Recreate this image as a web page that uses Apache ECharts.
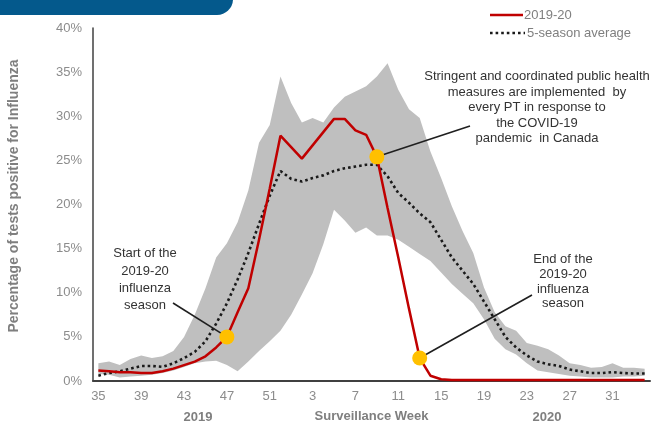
<!DOCTYPE html>
<html>
<head>
<meta charset="utf-8">
<script src="https://cdn.jsdelivr.net/npm/echarts@6/dist/echarts.min.js"></script>
<style>
  html, body { margin: 0; padding: 0; background: #ffffff; }
  #chart { width: 659px; height: 428px; }
</style>
</head>
<body>
<div id="chart"></div>
<script>
// Surveillance weeks of the 2019-20 season (week 35 of 2019 to week 34 of 2020)
const weeks = [35,36,37,38,39,40,41,42,43,44,45,46,47,48,49,50,51,52,
               1,2,3,4,5,6,7,8,9,10,11,12,13,14,15,16,17,18,19,20,21,22,23,24,25,26,27,28,29,30,31,32,33,34];

// Percentage of tests positive for influenza, 2019-20
const season2019 = [1.2,1.1,1.0,1.0,0.9,0.9,1.1,1.4,1.8,2.2,2.8,3.8,5.0,7.8,10.5,16.0,21.8,27.8,
                    26.5,25.2,26.7,28.2,29.7,29.7,28.4,27.9,25.4,19.6,14.0,8.2,2.6,0.6,0.2,0.1,
                    0.1,0.1,0.1,0.1,0.1,0.1,0.1,0.1,0.1,0.1,0.1,0.1,0.1,0.1,0.1,0.1,0.1,0.1];

// 5-season average
const avg5 = [0.6,0.9,1.1,1.4,1.7,1.7,1.6,2.0,2.6,3.3,4.5,6.5,8.8,11.5,14.5,17.8,21.0,23.8,
              22.9,22.6,23.0,23.3,23.8,24.1,24.3,24.5,24.5,23.2,21.3,20.2,19.0,18.0,16.0,14.0,
              12.5,11.0,9.0,7.0,5.0,3.8,2.9,2.2,1.9,1.7,1.3,1.1,0.9,0.9,1.0,0.9,0.85,0.85];

// Range of the previous 5 seasons (minimum / maximum)
const rangeMax = [2.0,2.2,1.8,2.5,2.9,2.6,2.8,3.4,5.0,7.5,10.5,14.0,15.6,18.0,21.6,27.0,29.0,34.5,
                  31.5,29.3,29.8,29.3,31.0,32.2,32.8,33.4,34.5,36.0,33.0,30.8,29.8,26.0,23.0,19.8,
                  17.0,14.5,10.6,7.8,6.2,5.7,4.3,4.0,3.6,2.9,2.0,1.8,1.5,1.6,2.0,1.5,1.5,1.4];
const rangeMin = [0.8,0.7,0.4,0.5,0.6,0.7,0.9,1.2,1.6,2.0,2.2,2.3,1.8,1.1,2.2,3.4,4.5,5.7,
                  7.5,9.8,12.2,15.5,19.4,18.2,16.8,17.4,16.5,16.5,16.0,15.2,14.4,13.6,12.3,11.0,
                  9.9,8.8,7.0,4.8,3.6,3.0,2.0,1.2,1.0,0.8,0.6,0.5,0.4,0.4,0.4,0.5,0.5,0.6];

// Highlighted weeks (index into weeks): season start, public health measures, season end
const keyWeeks = [12, 26, 30];

const FONT = 'Liberation Sans, Arial, Helvetica, sans-serif';
const RED = '#c00000';
const DOT = '#1a1a1a';
const chart = echarts.init(document.getElementById('chart'), null, { renderer: 'canvas' });

const rangeSpan = rangeMax.map((v, i) => +(v - rangeMin[i]).toFixed(2));

chart.setOption({
  animation: false,
  backgroundColor: '#ffffff',
  textStyle: { fontFamily: FONT },
  grid: { left: 93, right: 9, top: 28, bottom: 47, containLabel: false },
  xAxis: {
    type: 'category',
    data: weeks,
    boundaryGap: true,
    name: 'Surveillance Week',
    nameLocation: 'middle',
    nameGap: 29,
    nameTextStyle: { color: '#7f7f7f', fontSize: 13, fontWeight: 'bold', fontFamily: FONT },
    axisLine: { lineStyle: { color: '#404040', width: 2 } },
    axisTick: { show: false },
    axisLabel: { interval: 3, color: '#8c8c8c', fontSize: 13, margin: 9, fontFamily: FONT },
    splitLine: { show: false }
  },
  yAxis: {
    type: 'value',
    min: 0, max: 40, interval: 5,
    axisLine: { show: true, lineStyle: { color: '#404040', width: 1.5 } },
    axisTick: { show: false },
    axisLabel: { formatter: '{value}%', color: '#8c8c8c', fontSize: 13, margin: 11, fontFamily: FONT },
    splitLine: { show: false }
  },
  series: [
    {
      name: 'rangeMin', type: 'line', stack: 'range', data: rangeMin,
      symbol: 'none', lineStyle: { opacity: 0 }, silent: true, z: 1
    },
    {
      name: 'range', type: 'line', stack: 'range', data: rangeSpan,
      symbol: 'none', lineStyle: { opacity: 0 },
      areaStyle: { color: '#bfbfbf', opacity: 1 }, silent: true, z: 1
    },
    {
      name: '5-season average', type: 'line', data: avg5,
      symbol: 'none', z: 3,
      lineStyle: { color: DOT, width: 2.6, type: [2.6, 3], cap: 'butt' }
    },
    {
      name: '2019-20', type: 'line', data: season2019,
      symbol: 'none', z: 4,
      lineStyle: { color: RED, width: 2.5 }
    },
    {
      name: 'callouts', type: 'line', data: [], z: 5, silent: true,
      markLine: {
        silent: true, symbol: ['none', 'none'], animation: false,
        label: { show: false },
        lineStyle: { color: '#1f1f1f', width: 1.6, type: 'solid' },
        data: [
          [{ x: 173, y: 303 }, { coord: [keyWeeks[0], season2019[keyWeeks[0]]] }],
          [{ x: 470, y: 126 }, { coord: [keyWeeks[1], season2019[keyWeeks[1]]] }],
          [{ x: 532, y: 295 }, { coord: [keyWeeks[2], season2019[keyWeeks[2]]] }]
        ]
      }
    },
    {
      name: 'milestones', type: 'scatter', z: 6, silent: true,
      symbolSize: 15,
      itemStyle: { color: '#ffc000', opacity: 1 },
      data: keyWeeks.map(i => [i, season2019[i]])
    }
  ],
  graphic: [
    // header tab
    {
      type: 'rect', z: 10,
      shape: { x: -20, y: -20, width: 253, height: 35, r: [0, 0, 16, 0] },
      style: { fill: '#04598c' }
    },
    // y-axis title
    {
      type: 'text', z: 10, x: 14, y: 196, rotation: Math.PI / 2,
      style: { text: 'Percentage of tests positive for Influenza', x: 0, y: 0,
               align: 'center', verticalAlign: 'middle',
               font: 'bold 14px ' + FONT, fill: '#7f7f7f' }
    },
    // legend
    {
      type: 'line', z: 10,
      shape: { x1: 490, y1: 15, x2: 523, y2: 15 },
      style: { stroke: RED, lineWidth: 2.5 }
    },
    {
      type: 'text', z: 10,
      style: { text: '2019-20', x: 524, y: 15, align: 'left', verticalAlign: 'middle',
               font: '13px ' + FONT, fill: '#7f7f7f' }
    },
    {
      type: 'line', z: 10,
      shape: { x1: 490, y1: 33, x2: 525, y2: 33 },
      style: { stroke: DOT, lineWidth: 2.6, lineDash: [2.6, 3] }
    },
    {
      type: 'text', z: 10,
      style: { text: '5-season average', x: 527, y: 33, align: 'left', verticalAlign: 'middle',
               font: '13px ' + FONT, fill: '#7f7f7f' }
    },
    // year labels under the week axis
    {
      type: 'text', z: 10,
      style: { text: '2019', x: 198, y: 417, align: 'center', verticalAlign: 'middle',
               font: 'bold 13px ' + FONT, fill: '#7f7f7f' }
    },
    {
      type: 'text', z: 10,
      style: { text: '2020', x: 547, y: 417, align: 'center', verticalAlign: 'middle',
               font: 'bold 13px ' + FONT, fill: '#7f7f7f' }
    },
    // callout texts
    {
      type: 'text', z: 10,
      style: { text: 'Start of the\n2019-20\ninfluenza\nseason', x: 145, y: 245,
               align: 'center', verticalAlign: 'top', lineHeight: 17.3,
               font: '13px ' + FONT, fill: '#333333' }
    },
    {
      type: 'text', z: 10,
      style: { text: 'Stringent and coordinated public health\nmeasures are implemented  by\nevery PT in response to\nthe COVID-19\npandemic  in Canada',
               x: 537, y: 69, align: 'center', verticalAlign: 'top', lineHeight: 15.5,
               font: '13px ' + FONT, fill: '#333333' }
    },
    {
      type: 'text', z: 10,
      style: { text: 'End of the\n2019-20\ninfluenza\nseason', x: 563, y: 252,
               align: 'center', verticalAlign: 'top', lineHeight: 14.8,
               font: '13px ' + FONT, fill: '#333333' }
    }
  ]
});
</script>
</body>
</html>
